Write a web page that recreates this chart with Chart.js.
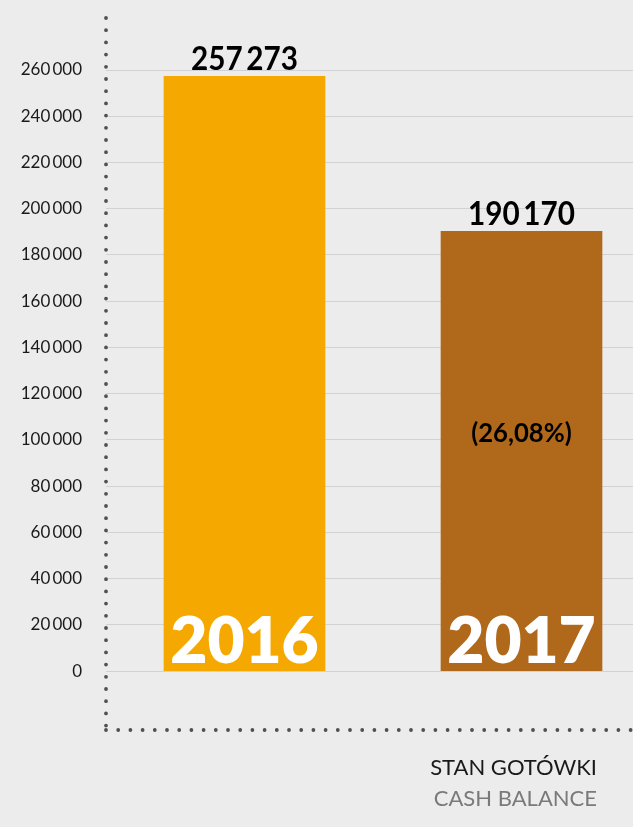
<!DOCTYPE html>
<html>
<head>
<meta charset="utf-8">
<script src="https://cdn.jsdelivr.net/npm/chart.js@4"></script>
<style>
  html, body { margin: 0; padding: 0; background: #ececec; overflow: hidden; }
  .wrap { position: relative; width: 633px; height: 827px; overflow: hidden; }
  canvas { position: absolute; left: 0; top: 0; }
  .caption { position: absolute; right: 36px; top: 751px; font-family: Lato, sans-serif; font-size: 22px; line-height: 31px; text-align: right; }
  .caption .pl { color: #1a1a1a; }
  .caption .en { color: #7a7a7a; }
</style>
</head>
<body>
<div class="wrap">
  <canvas id="myChart" width="660" height="827"></canvas>
  <div class="caption"><div class="pl">STAN GOTÓWKI</div><div class="en">CASH BALANCE</div></div>
</div>
<script>
// lata na osi x
var years = ["2016", "2017"];
// stan gotówki
var cashBalance = [257273, 190170];
// zmiana procentowa (tylko dla 2017)
var changeLabels = ["", "(26,08%)"];
var barColors = ["#f5a800", "#b0681a"];
// wartości podziałki osi y
var yTicks = [0, 20000, 40000, 60000, 80000, 100000, 120000, 140000,
  160000, 180000, 200000, 220000, 240000, 260000];

// 260000 -> "260 000"
function formatNumber(v) {
  return String(v).replace(/\B(?=(\d{3})+(?!\d))/g, "\u2009");
}

function drawDots(ctx, x1, y1, x2, y2) {
  ctx.save();
  ctx.strokeStyle = "#505050";
  ctx.lineWidth = 3.8;
  ctx.lineCap = "round";
  ctx.setLineDash([0, 12.2]);
  ctx.beginPath();
  ctx.moveTo(x1, y1);
  ctx.lineTo(x2, y2);
  ctx.stroke();
  ctx.restore();
}

// tekst nieco zwężony (jak w oryginale)
function drawNarrow(ctx, text, x, y, sx) {
  ctx.save();
  ctx.translate(x, y);
  ctx.scale(sx, 1);
  ctx.fillText(text, 0, 0);
  ctx.restore();
}

var dottedAxes = {
  id: "dottedAxes",
  beforeDatasetsDraw: function(chart) {
    var a = chart.chartArea;
    drawDots(chart.ctx, a.left, a.top, a.left, a.bottom);
    drawDots(chart.ctx, a.left, a.bottom, a.right, a.bottom);
  }
};

var barLabels = {
  id: "barLabels",
  afterDatasetsDraw: function(chart) {
    var ctx = chart.ctx;
    var meta = chart.getDatasetMeta(0);
    ctx.save();
    ctx.textAlign = "center";
    ctx.textBaseline = "alphabetic";
    meta.data.forEach(function(bar, i) {
      ctx.fillStyle = "#000";
      ctx.font = "700 33px Lato";
      drawNarrow(ctx, formatNumber(cashBalance[i]), bar.x, bar.y - 6, 0.9);
      ctx.fillStyle = "#fff";
      ctx.font = "800 64px Lato";
      ctx.fillText(years[i], bar.x, bar.base - 8);
      if (changeLabels[i]) {
        ctx.fillStyle = "#000";
        ctx.font = "700 27px Lato";
        drawNarrow(ctx, changeLabels[i], bar.x, (bar.y + bar.base) / 2 - 9, 0.95);
      }
    });
    ctx.restore();
  }
};

var ctx = document.getElementById("myChart");
var myChart = new Chart(ctx, {
  type: "bar",
  data: {
    labels: years,
    datasets: [{
      data: cashBalance,
      backgroundColor: barColors,
      borderWidth: 0,
      barThickness: 161
    }]
  },
  options: {
    responsive: false,
    animation: false,
    devicePixelRatio: 1,
    layout: { padding: { top: 18, bottom: 97, left: 0, right: 0 } },
    plugins: { legend: { display: false }, tooltip: { enabled: false } },
    scales: {
      x: {
        offset: true,
        ticks: { display: false },
        grid: { display: false, drawTicks: false },
        border: { display: false }
      },
      y: {
        min: -25500,
        max: 282500,
        afterFit: function(scale) { scale.width = 106; },
        afterBuildTicks: function(scale) {
          scale.ticks = yTicks.map(function(v) { return { value: v }; });
        },
        ticks: {
          padding: 0,
          color: "#1a1a1a",
          font: { family: "Lato", size: 17 },
          callback: function(v) { return formatNumber(v); }
        },
        grid: {
          color: "#d2d2d2",
          lineWidth: 1,
          drawTicks: true,
          tickLength: 24,
          tickColor: "rgba(0,0,0,0)"
        },
        border: { display: false }
      }
    }
  },
  plugins: [dottedAxes, barLabels]
});
</script>
</body>
</html>
